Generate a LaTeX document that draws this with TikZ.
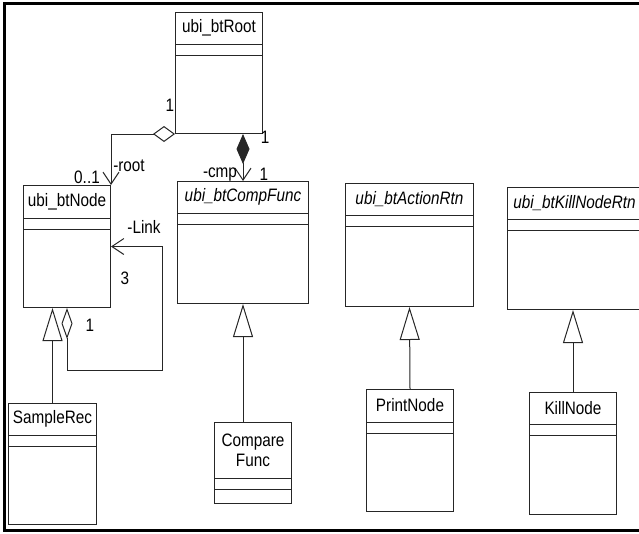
\documentclass[tikz,border=0pt]{standalone}
\usepackage{fontspec}
\setmainfont{Liberation Sans}[FakeStretch=0.85]
\usetikzlibrary{positioning, calc}
\usetikzlibrary{arrows, arrows.meta}
\colorlet{myline}{black!85}

% class box: name, x, y, width, height, title height, title
\newcommand{\umlclass}[7]{
  \node[classbox, minimum width=#4pt, minimum height=#5pt] (#1) at (#2,#3) {};
  \node[classname, minimum height=#6pt] (#1-name) at (#1.north) {#7};
  \draw (#1-name.south -| #1.west) -- (#1-name.south -| #1.east);
  \draw ([yshift=-11pt]#1-name.south -| #1.west) -- ([yshift=-11pt]#1-name.south -| #1.east);
}

\begin{document}
\begin{tikzpicture}[x=1pt,y=-1pt,line width=1pt,draw=myline,
    font=\fontsize{18}{20}\selectfont]
  \tikzstyle{classbox}=[rectangle,draw,anchor=north west,inner sep=0pt]
  \tikzstyle{classname}=[anchor=north,inner sep=0pt,align=center]
  \tikzstyle{lbl}=[inner sep=0pt]
  \tikzstyle{inherit}=[-{Triangle[open,length=33pt,width=20pt]}]
  \tikzstyle{assoc}=[{Diamond[open,length=22pt,width=16pt]}-{Straight Barb[length=12pt,width=16pt]}]
  \tikzstyle{compo}=[{Diamond[length=30pt,width=13pt]}-{Straight Barb[length=12pt,width=16pt]}]
  \tikzstyle{selfloop}=[{Diamond[open,length=31pt,width=11pt]}-{Straight Barb[length=12pt,width=16pt]}]

  \useasboundingbox (0,0) rectangle (639,533);
  \clip (0,0) rectangle (639,533);
  \draw[line width=3pt,black] (660,3) -- (4.5,3) -- (4.5,530) -- (660,530);

  \umlclass{root}{175}{12}{87}{121}{31}{ubi\_btRoot}
  \umlclass{btnode}{23}{185}{87}{122}{32}{ubi\_btNode}
  \umlclass{cfunc}{177}{181}{131}{122}{31}{\itshape ubi\_btCompFunc}
  \umlclass{action}{345}{183}{128}{123}{31}{\itshape ubi\_btActionRtn}
  \umlclass{killrtn}{507}{187}{134}{122}{31}{\itshape ubi\_btKillNodeRtn}
  \umlclass{samplerec}{8}{403}{88}{121}{31}{SampleRec}
  \umlclass{compare}{214}{422}{77}{81}{55}{Compare\\Func}
  \umlclass{printnode}{366}{389}{87}{122}{32}{PrintNode}
  \umlclass{killnode}{529}{392}{87}{122}{31}{KillNode}

  \draw[assoc] (root.south west) -- (root.south west -| btnode.north east) -- (btnode.north east);
  \draw[compo] (root.south -| cfunc.north) -- (cfunc.north);
  \coordinate (loop) at (162,370);
  \draw[selfloop] (btnode.south) |- (loop) |- (btnode.east);

  \draw[inherit] (samplerec.north) -- (samplerec.north |- btnode.south);
  \draw[inherit] (cfunc.south |- compare.north) -- (cfunc.south);
  \draw[inherit] (printnode.north) -- (action.south);
  \draw[inherit] (killnode.north) -- (killnode.north |- killrtn.south);

  \node[lbl] (root-m1) at (170,105) {1};
  \node[lbl] (root-m2) at (87,177) {0..1};
  \node[lbl] (root-role) at (129,166) {-root};
  \node[lbl] (cmp-m1) at (265,137) {1};
  \node[lbl] (cmp-role) at (220,175) {-cmp};
  \node[lbl] (cmp-m2) at (264,174) {1};
  \node[lbl] (link-role) at (144,227) {-Link};
  \node[lbl] (link-m1) at (125,278) {3};
  \node[lbl] (link-m2) at (90,325) {1};
\end{tikzpicture}
\end{document}
